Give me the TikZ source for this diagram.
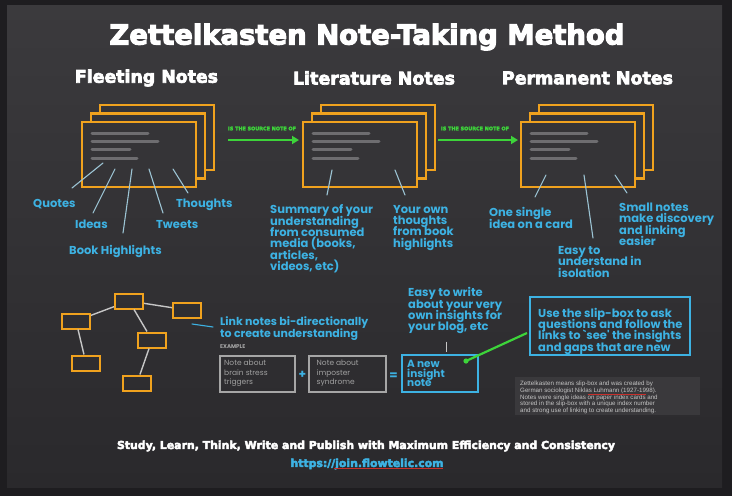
\documentclass[tikz,border=0pt]{standalone}
\usepackage{fontspec}
\setmainfont{DejaVu Sans}
\newfontfamily\pop{Poppins}
\newfontfamily\dvb{DejaVu Sans}[BoldFeatures={FakeBold=4}]
\newfontfamily\lib{Liberation Sans}
\usetikzlibrary{arrows.meta}
\definecolor{cOuter}{HTML}{1E1D20}
\definecolor{cTop}{HTML}{3B3A3D}
\definecolor{cBot}{HTML}{2A292C}
\definecolor{cCard}{HTML}{353437}
\definecolor{cOrange}{HTML}{F0A21E}
\definecolor{cGreen}{HTML}{3DD43A}
\definecolor{cBlue}{HTML}{3DB2E3}
\definecolor{cConn}{HTML}{9CC4D4}
\definecolor{cLine}{HTML}{6E6D70}
\definecolor{cEdge}{HTML}{C6C6C6}
\definecolor{cNote}{HTML}{A6A6A6}
\definecolor{cNoteTxt}{HTML}{A0A0A0}
\definecolor{cInfo}{HTML}{3A393C}
\definecolor{cInfoTxt}{HTML}{C4C4C4}
\definecolor{cRed}{HTML}{C8302C}
\newcommand{\tightlines}{\lineskiplimit=-20pt\lineskip=0pt}
\tikzset{
  card/.style={draw=cOrange, line width=2.2pt, fill=cCard, minimum width=114pt, minimum height=65pt, inner sep=0pt},
  gbox/.style={draw=cOrange, line width=2pt, minimum width=28pt, minimum height=15pt, inner sep=0pt},
  gedge/.style={draw=cEdge, line width=1.4pt},
  blab/.style={text=cBlue, font=\pop\bfseries\fontsize{11.5}{11.3}\selectfont\tightlines, inner sep=0pt, align=left, anchor=north west},
  conn/.style={draw=cConn, line width=1.1pt, line cap=round},
  garrow/.style={draw=cGreen, line width=2.4pt, -{Triangle[length=7pt,width=8pt]}},
  glab/.style={text=cGreen, font=\dvb\bfseries, inner sep=0pt},
  hdr/.style={text=white, font=\dvb\bfseries, inner sep=0pt},
  cardline/.style={draw=cLine, line width=3pt, line cap=round},
  notebox/.style={draw=cNote, line width=1.3pt, inner sep=0pt},
  notetxt/.style={text=cNoteTxt, font=\pop\fontsize{7.5}{9.6}\selectfont\tightlines, inner sep=0pt, align=left, anchor=north west},
  bluebox/.style={draw=cBlue, line width=1.8pt, inner sep=0pt},
}
\newcommand{\cardstack}[4]{% name, x left, y top, label
  \node[card] (#1b) at (#2+57+18,#3+32.5-17) {};
  \node[card] (#1m) at (#2+57+9,#3+32.5-8.5) {};
  \node[card] (#1) at (#2+57,#3+32.5) {};
  \draw[cardline] (#2+10,#3+11) -- ++(56,0);
  \draw[cardline] (#2+10,#3+19) -- ++(66,0);
  \draw[cardline] (#2+10,#3+27) -- ++(38,0);
  \draw[cardline] (#2+10,#3+36) -- ++(45,0);
}
\begin{document}
\begin{tikzpicture}[x=1pt,y=-1pt]
\useasboundingbox (0,0) rectangle (732,496);
\fill[cOuter] (0,0) rectangle (732,496);
\shade[top color=cTop, bottom color=cBot] (7,5) rectangle (722,487);

% titles
\node[hdr] (title) at (367,37) {\resizebox{515pt}{!}{Zettelkasten Note-Taking Method}};
\node[hdr] (h1) at (146.5,78) {\resizebox{143pt}{!}{Fleeting Notes}};
\node[hdr] (h2) at (374,78) {\resizebox{162pt}{!}{Literature Notes}};
\node[hdr] (h3) at (587.5,78) {\resizebox{171pt}{!}{Permanent Notes}};

% card stacks
\cardstack{fl}{82}{122}{}
\cardstack{li}{303}{122}{}
\cardstack{pe}{521}{122}{}

% green arrows
\coordinate (a1s) at (228,140);
\coordinate (a1e) at (299,140);
\coordinate (a2s) at (438,140);
\coordinate (a2e) at (518,140);
\draw[garrow] (a1s) -- (a1e);
\draw[garrow] (a2s) -- (a2e);
\node[glab] (g1) at (262,128.5) {\resizebox{68pt}{!}{IS THE SOURCE NOTE OF}};
\node[glab] (g2) at (475,128.5) {\resizebox{68pt}{!}{IS THE SOURCE NOTE OF}};

% fleeting labels
\node[blab] (q) at (33,199.6) {Quotes};
\node[blab] (id) at (75,219.6) {Ideas};
\node[blab] (bh) at (69,244.6) {Book Highlights};
\node[blab] (tw) at (156,220.3) {Tweets};
\node[blab] (th) at (176,198.6) {Thoughts};
\coordinate (q1) at (103,163); \coordinate (q2) at (72,188);
\coordinate (i1) at (115,169); \coordinate (i2) at (93,213);
\coordinate (b1) at (132,169); \coordinate (b2) at (123,233);
\coordinate (t1) at (149,169); \coordinate (t2) at (163,213);
\coordinate (o1) at (173,169); \coordinate (o2) at (188,193);
\draw[conn] (q1) -- (q2);
\draw[conn] (i1) -- (i2);
\draw[conn] (b1) -- (b2);
\draw[conn] (t1) -- (t2);
\draw[conn] (o1) -- (o2);

% literature labels
\node[blab] (sum) at (270,204.6) {Summary of your\\understanding\\from consumed\\media (books,\\articles,\\videos, etc)};
\node[blab] (own) at (393,205.1) {Your own\\thoughts\\from book\\highlights};
\coordinate (s1) at (332,170); \coordinate (s2) at (327,195);
\coordinate (w1) at (395,170); \coordinate (w2) at (405,195);
\draw[conn] (s1) -- (s2);
\draw[conn] (w1) -- (w2);

% permanent labels
\node[blab] (one) at (489,207.3) {One single\\idea on a card};
\node[blab] (easy) at (558,246.3) {Easy to\\understand in\\isolation};
\node[blab] (small) at (619,202.8) {Small notes\\make discovery\\and linking\\easier};
\coordinate (p1) at (546,175); \coordinate (p2) at (535,197);
\coordinate (e1) at (584,175); \coordinate (e2) at (593,238);
\coordinate (m1) at (615,175); \coordinate (m2) at (627,193);
\draw[conn] (p1) -- (p2);
\draw[conn] (e1) -- (e2);
\draw[conn] (m1) -- (m2);

% graph
\node[gbox] (nA) at (129,301) {};
\node[gbox] (nB) at (76,321) {};
\node[gbox] (nC) at (187,310) {};
\node[gbox] (nD) at (152,340) {};
\node[gbox] (nE) at (86,363) {};
\node[gbox] (nF) at (137,383) {};
\draw[gedge] (nA) -- (nB);
\draw[gedge] (nA) -- (nC);
\draw[gedge] (nA) -- (nD);
\draw[gedge] (nB) -- (nE);
\draw[gedge] (nD) -- (nF);

\node[blab, font=\pop\bfseries\fontsize{11}{11.3}\selectfont\tightlines] (link) at (220,316.8) {Link notes bi-directionally\\to create understanding};
\coordinate (l1) at (192,324); \coordinate (l2) at (213,327);
\draw[conn, draw=cBlue] (l1) -- (l2);
\node[inner sep=0pt, anchor=north west, text=cNote, font=\pop\bfseries\fontsize{5.5}{6}\selectfont] (ex) at (220,344.5) {EXAMPLE};

% example boxes
\node[notebox, minimum width=75pt, minimum height=36pt] (nb1) at (257.5,374) {};
\node[notebox, minimum width=77pt, minimum height=36pt] (nb2) at (347.5,374) {};
\node[notetxt] (nt1) at (224,359.8) {Note about\\brain stress\\triggers};
\node[notetxt] (nt2) at (316.5,359.8) {Note about\\imposter\\syndrome};
\node[text=cBlue, font=\pop\bfseries\fontsize{12}{12}\selectfont, inner sep=0pt] (plus) at (302.5,374.5) {+};
\node[text=cBlue, font=\pop\bfseries\fontsize{12}{12}\selectfont, inner sep=0pt] (eq) at (393.5,376) {=};

% insight
\node[bluebox, minimum width=76pt, minimum height=37pt] (ins) at (440,373.3) {};
\node[blab, font=\pop\bfseries\fontsize{10.5}{9.3}\selectfont\tightlines] (inst) at (407,360.3) {A new\\insight\\note};
\node[blab] (write) at (408,287.3) {Easy to write\\about your very\\own insights for\\your blog, etc};
\coordinate (v1) at (446.7,341.5); \coordinate (v2) at (446.7,351.5);
\draw[draw=cEdge, line width=1pt] (v1) -- (v2);

\node[bluebox, minimum width=160pt, minimum height=58pt] (slip) at (610,326) {};
\node[blab] (sliptxt) at (538,307.8) {Use the slip-box to ask\\questions and follow the\\links to `see' the insights\\and gaps that are new};
\coordinate (gd) at (466,361);
\coordinate (ge) at (527,333);
\draw[cGreen, line width=2.2pt] (gd) -- (ge);
\fill[cGreen] (gd) circle (2.6);

% info box
\node[fill=cInfo, minimum width=185pt, minimum height=38pt, inner sep=0pt] (info) at (607.5,396) {};
\node[text=cInfoTxt, font=\lib\fontsize{6.2}{6.7}\selectfont\tightlines, inner sep=0pt, align=left, anchor=north west] (infotxt) at (520,381) {Zettelkasten means slip-box and was created by\\German sociologist Niklas Luhmann (1927-1998).\\Notes were single ideas on paper index cards and\\stored in the slip-box with a unique index number\\and strong use of linking to create understanding.};
\coordinate (r1) at (588,394.5); \coordinate (r2) at (646,394.5);
\draw[cRed, line width=0.8pt] (r1) -- (r2);

% footer
\node[hdr] (foot) at (366,446) {\resizebox{498pt}{!}{Study, Learn, Think, Write and Publish with Maximum Efficiency and Consistency}};
\node[hdr, text=cBlue] (url) at (367,464) {\resizebox{153pt}{!}{https://join.flowtelic.com}};
\coordinate (u1) at (334,468.5); \coordinate (u2) at (443,468.5);
\draw[cRed, line width=0.9pt] (u1) -- (u2);
\end{tikzpicture}
\end{document}
